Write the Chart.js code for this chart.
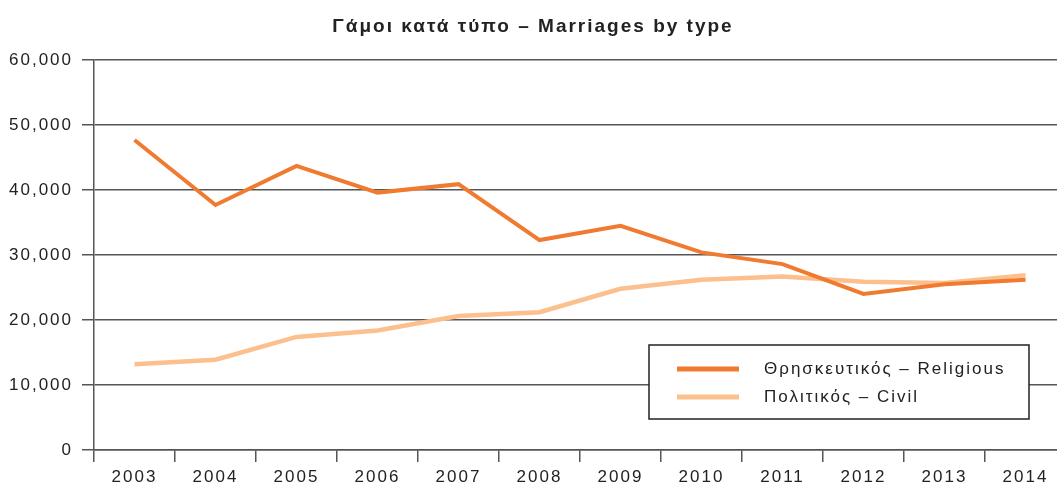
<!DOCTYPE html>
<html>
<head>
<meta charset="utf-8">
<title>Γάμοι κατά τύπο – Marriages by type</title>
<script src="https://cdn.jsdelivr.net/npm/chart.js"></script>
<style>
  html, body { margin: 0; padding: 0; background: #fff; overflow: hidden; }
  #wrap { width: 1086px; height: 486px; }
</style>
</head>
<body>
<div id="wrap"><canvas id="chart" width="1086" height="486"></canvas></div>
<script>
// Données
const years = ['2003', '2004', '2005', '2006', '2007', '2008', '2009', '2010', '2011', '2012', '2013', '2014'];
const religious = [47700, 37700, 43700, 39600, 40900, 32300, 34500, 30400, 28600, 24000, 25500, 26200];
const civil = [13200, 13900, 17400, 18400, 20600, 21200, 24800, 26200, 26700, 25900, 25700, 26900];
const seriesLabels = ['Θρησκευτικός – Religious', 'Πολιτικός – Civil'];
const yTicks = [0, 10000, 20000, 30000, 40000, 50000, 60000];

const FONT = '"Liberation Sans", Arial, Helvetica, sans-serif';
const GRID = '#555';
const TEXT = '#222';

// Espacement des lettres (le texte de l'original est assez large)
const spacing = {
    id: 'spacing',
    beforeUpdate(chart) { chart.ctx.letterSpacing = '2px'; },
    beforeDraw(chart) { chart.ctx.letterSpacing = '2px'; }
};

// Légende dessinée dans la zone du graphique
const boxLegend = {
    id: 'boxLegend',
    afterDraw(chart) {
        const ctx = chart.ctx;
        ctx.save();
        ctx.strokeStyle = '#222';
        ctx.lineWidth = 1.5;
        ctx.fillStyle = '#fff';
        ctx.fillRect(649, 345, 380, 74);
        ctx.strokeRect(649, 345, 380, 74);
        chart.data.datasets.forEach((ds, i) => {
            const y = 369 + i * 28;
            ctx.strokeStyle = ds.borderColor;
            ctx.lineWidth = 5;
            ctx.beginPath();
            ctx.moveTo(677, y);
            ctx.lineTo(739, y);
            ctx.stroke();
            ctx.fillStyle = TEXT;
            ctx.font = '17px ' + FONT;
            ctx.letterSpacing = '2px';
            ctx.textBaseline = 'middle';
            ctx.fillText(ds.label, 764, y);
        });
        ctx.restore();
    }
};

new Chart(document.getElementById('chart'), {
    type: 'line',
    data: {
        labels: years,
        datasets: [{
            label: seriesLabels[0],
            data: religious,
            borderColor: '#F07B30',
            borderWidth: 4,
            pointRadius: 0,
            tension: 0
        }, {
            label: seriesLabels[1],
            data: civil,
            borderColor: '#FCBF8E',
            borderWidth: 4.5,
            pointRadius: 0,
            tension: 0
        }]
    },
    options: {
        responsive: false,
        animation: false,
        devicePixelRatio: 1,
        layout: { padding: { left: 0, right: 20, top: 0, bottom: 0 } },
        plugins: {
            legend: { display: false },
            tooltip: { enabled: false },
            title: {
                display: true,
                text: 'Γάμοι κατά τύπο – Marriages by type',
                color: TEXT,
                font: { family: FONT, size: 19, weight: 'bold' },
                padding: { top: 15.6, bottom: 21.6 }
            }
        },
        scales: {
            x: {
                offset: true,
                grid: {
                    offset: true,
                    drawOnChartArea: false,
                    drawTicks: true,
                    tickLength: 12,
                    color: GRID,
                    lineWidth: 1.5
                },
                border: { display: true, color: GRID, width: 1.5 },
                ticks: {
                    color: TEXT,
                    font: { family: FONT, size: 17 },
                    padding: 5,
                    maxRotation: 0,
                    autoSkip: false
                },
                afterFit(scale) { scale.height = 36; }
            },
            y: {
                min: 0,
                max: 60000,
                afterBuildTicks(scale) {
                    scale.ticks = yTicks.map(v => ({ value: v }));
                },
                grid: {
                    color: GRID,
                    lineWidth: 1.5,
                    drawTicks: true,
                    tickLength: 12
                },
                border: { display: true, color: GRID, width: 1.5 },
                ticks: {
                    color: TEXT,
                    font: { family: FONT, size: 17 },
                    padding: 9,
                    callback: v => v.toLocaleString('en-US')
                },
                afterFit(scale) { scale.width = 94; }
            }
        }
    },
    plugins: [spacing, boxLegend]
});
</script>
</body>
</html>
